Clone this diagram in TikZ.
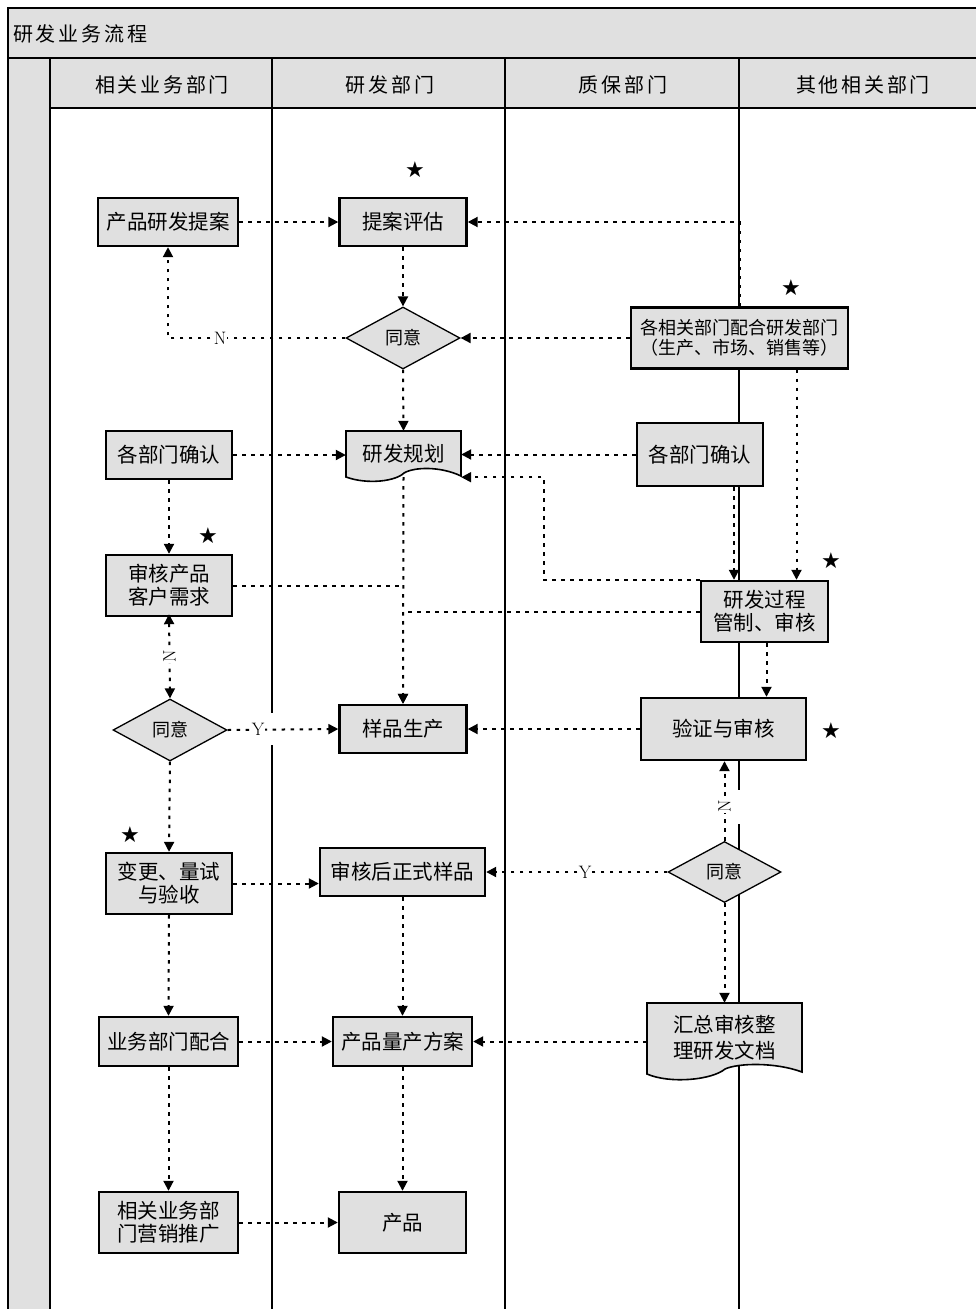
\documentclass[tikz,border=0pt]{standalone}
\usepackage{fontspec}
\newfontfamily\cjk{Noto Sans CJK SC}
\newfontfamily\cjkhead[LetterSpace=14]{Noto Sans CJK SC}
\newfontfamily\sym{DejaVu Sans}
\usetikzlibrary{arrows.meta,shapes.geometric,calc}
\definecolor{boxgray}{RGB}{224,224,224}
\begin{document}
\begin{tikzpicture}[x=1pt,y=-1pt,
  proc/.style={draw=black,line width=2.4pt,fill=boxgray,inner sep=0pt,align=center,
    font=\cjk\fontsize{20.5}{23}\selectfont},
  dec/.style={diamond,draw=black,line width=1.3pt,fill=boxgray,inner sep=0pt,
    minimum width=114pt,minimum height=62pt,font=\cjk\fontsize{18}{20}\selectfont},
  ghost/.style={inner sep=0pt,align=center,font=\cjk\fontsize{20.5}{26}\selectfont},
  doc/.style={draw=black,line width=1.6pt,fill=boxgray},
  flow/.style={line width=2pt,dash pattern=on 3.5pt off 5.5pt,-{Triangle[length=10pt,width=10pt]}},
  link/.style={line width=2pt,dash pattern=on 3.5pt off 5.5pt},
  lane/.style={line width=1.8pt,black},
  lbl/.style={fill=white,inner sep=0.4pt,font=\fontsize{18}{18}\selectfont},
  star/.style={font=\sym\fontsize{22}{22}\selectfont,inner sep=0pt},
  head/.style={font=\cjkhead\fontsize{20}{20}\selectfont,inner sep=0pt}]
\useasboundingbox (0,0) rectangle (976,1309);
% frame and bands
\fill[boxgray] (8,8) rectangle (976,58);
\fill[boxgray] (8,58) rectangle (50,1309);
\fill[boxgray] (50,58) rectangle (976,108);
\draw[lane] (8,1309) -- (8,8) -- (976,8);
\draw[lane] (8,58) -- (976,58);
\draw[lane] (50,108) -- (976,108);
\draw[lane] (50,58) -- (50,1309);
\draw[lane] (272,58) -- (272,713) (272,745) -- (272,1309);
\draw[lane] (505,58) -- (505,1309);
\draw[lane] (739,58) -- (739,790) (739,824) -- (739,1309);
\node[head,anchor=west] (title) at (13,34) {研发业务流程};
\node[head] (h1) at (162,85) {相关业务部门};
\node[head] (h2) at (390,85) {研发部门};
\node[head] (h3) at (623,85) {质保部门};
\node[head] (h4) at (863,85) {其他相关部门};
% nodes
\node[proc,minimum width=140pt,minimum height=48pt] (a1) at (168,222) {产品研发提案};
\node[proc,minimum width=127pt,minimum height=48pt] (b1) at (403,222) {提案评估};
\node[dec] (b2) at (403,338) {同意};
\node[proc,minimum width=217pt,minimum height=61pt,font=\cjk\fontsize{18}{20}\selectfont] (d1) at (739.5,338) {各相关部门配合研发部门\\（生产、市场、销售等）};
\node[proc,minimum width=126pt,minimum height=48pt] (a2) at (169,455) {各部门确认};
% document shape 研发规划
\draw[doc] (346,431) -- (461,431) -- (461,476) .. controls (440,466) and (414,467) .. (404,473)
  .. controls (396,481) and (368,485) .. (346,477) -- cycle;
\node[ghost,minimum width=115pt,minimum height=46pt] (b3) at (403.5,454) {\raisebox{2pt}{研发规划}};
\node[proc,minimum width=126pt,minimum height=63pt] (d2) at (700,454.5) {各部门确认};
\node[proc,minimum width=126pt,minimum height=61pt] (a3) at (169,585.5) {审核产品\\客户需求};
\node[proc,minimum width=127pt,minimum height=61pt] (c2) at (764.5,611.5) {研发过程\\管制、审核};
\node[dec] (a4) at (170,730) {同意};
\node[proc,minimum width=127pt,minimum height=48pt] (b4) at (403,729) {样品生产};
\node[proc,minimum width=165pt,minimum height=62pt] (c3) at (723.5,729) {验证与审核};
\node[proc,minimum width=126pt,minimum height=61pt] (a5) at (169,883.5) {变更、量试\\与验收};
\node[proc,minimum width=165pt,minimum height=48pt] (b5) at (402.5,872) {审核后正式样品};
\node[dec,minimum width=113pt,minimum height=61pt] (c4) at (724.5,872) {同意};
\node[proc,minimum width=139pt,minimum height=49pt] (a6) at (168.5,1041.5) {业务部门配合};
\node[proc,minimum width=139pt,minimum height=49pt] (b6) at (402.5,1041.5) {产品量产方案};
% document shape 汇总
\draw[doc] (647,1003) -- (802,1003) -- (802,1072) .. controls (775,1062) and (738,1063) .. (725,1069)
  .. controls (712,1080) and (670,1084) .. (647,1074) -- cycle;
\node[ghost,minimum width=155pt,minimum height=70pt] (c5) at (724.5,1038) {汇总审核整\\理研发文档};
\node[proc,minimum width=139pt,minimum height=61pt] (a7) at (168.5,1222.5) {相关业务部\\门营销推广};
\node[proc,minimum width=127pt,minimum height=61pt] (b7) at (402.5,1222.5) {产品};
% stars
\node[star] (s1) at (415,170) {★};
\node[star] (s2) at (791,288) {★};
\node[star] (s3) at (208,536) {★};
\node[star] (s4) at (831,561) {★};
\node[star] (s5) at (831,731) {★};
\node[star] (s6) at (130,835) {★};
% connectors
\draw[flow] (a1) -- (b1);
\draw[flow] (d1.north) |- (b1.east);
\draw[flow] (b1.south) -- (b2.north);
\draw[flow] (b2.west) -| node[lbl,pos=0.353]{N} (a1.south);
\draw[flow] (d1.west) -- (b2.east);
\draw[flow] (b2.south) -- (b3.north);
\draw[flow] (a2.east) -- (a2.east -| b3.west);
\draw[flow] (d2.west) -- (d2.west -| b3.east);
\draw[flow] (c2.north west) -- ++(-156,0) |- (b3.south east);
\draw[flow] (a2.south) -- (a3.north);
\draw[flow] ([xshift=34pt]d2.south) -- ([xshift=34pt]d2.south |- c2.north);
\draw[flow] ([xshift=57pt]d1.south) -- ([xshift=57pt]d1.south |- c2.north);
\draw[flow] (b3.south) -- (b4.north);
\draw[link] (a3.east) -- (a3.east -| b4.north);
\draw[flow] (c2.west) -| (b4.north);
\draw[flow,{Triangle[length=10pt,width=10pt]}-{Triangle[length=10pt,width=10pt]}] ([yshift=3pt]a3.south) -- node[lbl,rotate=90]{N} (a4.north);
\draw[flow] (a4.east) -- node[lbl,pos=0.276]{Y} (b4.west);
\draw[flow] ([xshift=2pt]c2.south) -- ([xshift=2pt]c2.south |- c3.north);
\draw[flow] (c3.west) -- (b4.east);
\draw[flow] (a4.south) -- (a5.north);
\draw[flow] (a5.east) -- (a5.east -| b5.west);
\draw[flow] (c4.west) -- node[lbl,pos=0.454]{Y} (b5.east);
\draw[flow] (c4.north) -- node[lbl,rotate=90,pos=0.43]{N} (c4.north |- c3.south);
\draw[flow] (c4.south) -- (c5.north);
\draw[flow] (b6.east -| c5.west) -- (b6.east);
\draw[flow] (b5.south) -- (b6.north);
\draw[flow] (a5.south) -- (a6.north);
\draw[flow] (a6.east) -- (b6.west);
\draw[flow] (a6.south) -- (a7.north);
\draw[flow] (b6.south) -- (b7.north);
\draw[flow] (a7.east) -- (b7.west);
\end{tikzpicture}
\end{document}
